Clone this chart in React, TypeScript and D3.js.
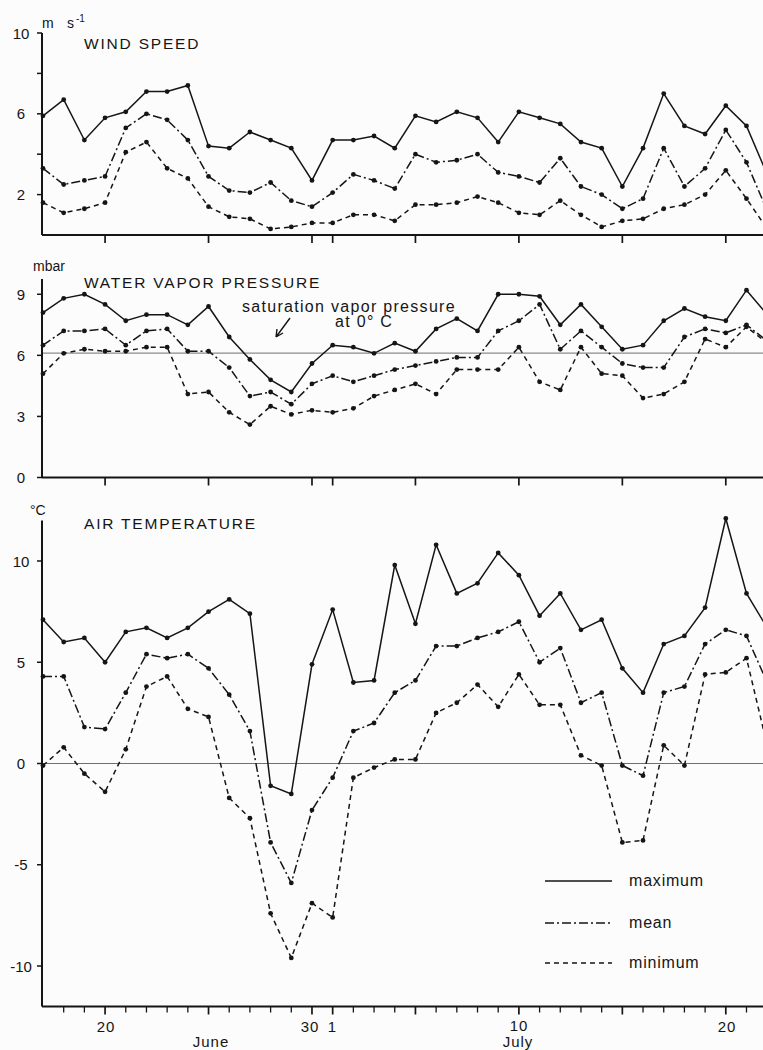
import React from 'react'
import * as d3 from 'd3'

// daily values, 17 June .. 22 July
const days = d3.utcDay.range(new Date(Date.UTC(1970, 5, 17)), new Date(Date.UTC(1970, 6, 23)))

const windMax = [5.9, 6.7, 4.7, 5.8, 6.1, 7.1, 7.1, 7.4, 4.4, 4.3, 5.1, 4.7, 4.3, 2.7, 4.7, 4.7, 4.9, 4.3, 5.9, 5.6, 6.1, 5.8, 4.6, 6.1, 5.8, 5.5, 4.6, 4.3, 2.4, 4.3, 7.0, 5.4, 5.0, 6.4, 5.4, 3.0]
const windMean = [3.3, 2.5, 2.7, 2.9, 5.3, 6.0, 5.7, 4.7, 2.9, 2.2, 2.1, 2.6, 1.7, 1.4, 2.1, 3.0, 2.7, 2.3, 4.0, 3.6, 3.7, 4.0, 3.1, 2.9, 2.6, 3.8, 2.4, 2.0, 1.3, 1.8, 4.3, 2.4, 3.3, 5.2, 3.6, 1.2]
const windMin = [1.6, 1.1, 1.3, 1.6, 4.1, 4.6, 3.3, 2.8, 1.4, 0.9, 0.8, 0.3, 0.4, 0.6, 0.6, 1.0, 1.0, 0.7, 1.5, 1.5, 1.6, 1.9, 1.6, 1.1, 1.0, 1.7, 1.0, 0.4, 0.7, 0.8, 1.3, 1.5, 2.0, 3.2, 1.8, 0.3]

const vapMax = [8.1, 8.8, 9.0, 8.5, 7.7, 8.0, 8.0, 7.5, 8.4, 6.9, 5.8, 4.8, 4.2, 5.6, 6.5, 6.4, 6.1, 6.6, 6.2, 7.3, 7.8, 7.2, 9.0, 9.0, 8.9, 7.5, 8.5, 7.4, 6.3, 6.5, 7.7, 8.3, 7.9, 7.7, 9.2, 8.0]
const vapMean = [6.5, 7.2, 7.2, 7.3, 6.5, 7.2, 7.3, 6.2, 6.2, 5.4, 4.0, 4.2, 3.6, 4.6, 5.0, 4.7, 5.0, 5.3, 5.5, 5.7, 5.9, 5.9, 7.2, 7.7, 8.5, 6.3, 7.2, 6.4, 5.6, 5.4, 5.4, 6.9, 7.3, 7.1, 7.5, 6.7]
const vapMin = [5.1, 6.1, 6.3, 6.2, 6.2, 6.4, 6.4, 4.1, 4.2, 3.2, 2.6, 3.5, 3.1, 3.3, 3.2, 3.4, 4.0, 4.3, 4.6, 4.1, 5.3, 5.3, 5.3, 6.4, 4.7, 4.3, 6.4, 5.1, 5.0, 3.9, 4.1, 4.7, 6.8, 6.4, 7.4, 6.6]
const satVapor = 6.11

const tempMax = [7.1, 6.0, 6.2, 5.0, 6.5, 6.7, 6.2, 6.7, 7.5, 8.1, 7.4, -1.1, -1.5, 4.9, 7.6, 4.0, 4.1, 9.8, 6.9, 10.8, 8.4, 8.9, 10.4, 9.3, 7.3, 8.4, 6.6, 7.1, 4.7, 3.5, 5.9, 6.3, 7.7, 12.1, 8.4, 6.7]
const tempMean = [4.3, 4.3, 1.8, 1.7, 3.5, 5.4, 5.2, 5.4, 4.7, 3.4, 1.6, -3.9, -5.9, -2.3, -0.7, 1.6, 2.0, 3.5, 4.1, 5.8, 5.8, 6.2, 6.5, 7.0, 5.0, 5.7, 3.0, 3.5, -0.1, -0.6, 3.5, 3.8, 5.9, 6.6, 6.3, 4.0]
const tempMin = [-0.1, 0.8, -0.5, -1.4, 0.7, 3.8, 4.3, 2.7, 2.3, -1.7, -2.7, -7.4, -9.6, -6.9, -7.6, -0.7, -0.2, 0.2, 0.2, 2.5, 3.0, 3.9, 2.8, 4.4, 2.9, 2.9, 0.4, -0.1, -3.9, -3.8, 0.9, -0.1, 4.4, 4.5, 5.2, 0.9]

const legendLabels = ['maximum', 'mean', 'minimum']
const dashes = [null, '9,3,2,3', '5,4']

const FONT = '"Liberation Sans", Arial, sans-serif'
const INK = '#151515'

const x = d3.scaleUtc()
  .domain([new Date(Date.UTC(1970, 5, 17)), new Date(Date.UTC(1970, 6, 20))])
  .range([43, 725.8])

const AX = 42
const RIGHT = 775

const majorDays = [
  Date.UTC(1970, 5, 20), Date.UTC(1970, 5, 25), Date.UTC(1970, 5, 30), Date.UTC(1970, 6, 1),
  Date.UTC(1970, 6, 5), Date.UTC(1970, 6, 10), Date.UTC(1970, 6, 15), Date.UTC(1970, 6, 20),
].map(t => new Date(t))

const panels = [
  {
    key: 'wind', title: 'WIND SPEED', titleY: 49, domain: [0, 10], range: [235, 33],
    ticks: [2, 4, 6, 8, 10], labels: [2, 6, 10], series: [windMax, windMean, windMin],
  },
  {
    key: 'vap', title: 'WATER VAPOR PRESSURE', titleY: 288, domain: [0, 9.75], range: [477.5, 279],
    ticks: [0, 3, 6, 9], labels: [0, 3, 6, 9], series: [vapMax, vapMean, vapMin], ref: satVapor,
  },
  {
    key: 'temp', title: 'AIR TEMPERATURE', titleY: 529, domain: [-12, 12], range: [1006.5, 520.5],
    ticks: [-10, -5, 0, 5, 10], labels: [-10, -5, 0, 5, 10], series: [tempMax, tempMean, tempMin], ref: 0,
  },
]

function Panel({ p }: { p: any }) {
  const y = d3.scaleLinear().domain(p.domain).range(p.range)
  const y0 = p.range[0]
  const line = d3.line<number>().x((_, i) => x(days[i])).y(v => y(v))
  const isTemp = p.key === 'temp'
  const bottomTicks = isTemp ? d3.utcDay.range(new Date(Date.UTC(1970, 5, 18)), new Date(Date.UTC(1970, 6, 23))) : majorDays

  return (
    <g>
      {p.ref !== undefined && (
        <line x1={AX} x2={RIGHT} y1={y(p.ref)} y2={y(p.ref)} stroke="#707070" strokeWidth={1} />
      )}
      <line x1={AX} x2={AX} y1={p.range[1]} y2={y0} stroke={INK} strokeWidth={2} />
      <line x1={AX} x2={RIGHT} y1={y0} y2={y0} stroke={INK} strokeWidth={2} />
      {p.ticks.map((t: number) => (
        <line key={t} x1={AX - 5} x2={AX} y1={y(t)} y2={y(t)} stroke={INK} strokeWidth={1.5} />
      ))}
      {p.labels.map((t: number) => (
        <text key={t} x={21} y={y(t) + 5.5} textAnchor="middle" fontSize={15} fill={INK}
          fontFamily={FONT}>{t}</text>
      ))}
      {bottomTicks.map((d: Date) => {
        const major = majorDays.some(m => +m === +d)
        return (
          <line key={+d} x1={x(d)} x2={x(d)} y1={y0} y2={y0 + (major ? 8 : 6)}
            stroke={INK} strokeWidth={major ? 1.7 : 1.3} />
        )
      })}
      <text x={84} y={p.titleY} fontSize={15.5} letterSpacing={1.8} fill={INK} fontFamily={FONT}>{p.title}</text>
      {p.series.map((s: number[], k: number) => (
        <g key={k}>
          <path d={line(s) || ''} fill="none" stroke={INK} strokeWidth={1.5}
            strokeDasharray={dashes[k] || undefined} />
          {s.map((v, i) => (
            <circle key={i} cx={x(days[i])} cy={y(v)} r={2.4} fill={INK} />
          ))}
        </g>
      ))}
    </g>
  )
}

export default function App() {
  const legendY = [881, 923, 963]
  return (
    <svg width={763} height={1050} style={{ position: 'absolute', left: 0, top: 0, background: '#fcfcfc' }}>
      {panels.map(p => <Panel key={p.key} p={p} />)}

      {/* units */}
      <text x={42} y={28} fontSize={14} fill={INK} fontFamily={FONT}>m</text>
      <text x={67} y={28} fontSize={14} fill={INK} fontFamily={FONT}>s</text>
      <text x={76} y={22} fontSize={10} fill={INK} fontFamily={FONT}>-1</text>
      <text x={33} y={271} fontSize={14} fill={INK} fontFamily={FONT}>mbar</text>
      <text x={30} y={515} fontSize={14} fill={INK} fontFamily={FONT}>°C</text>

      {/* saturation annotation */}
      <text x={242} y={311.5} fontSize={16} letterSpacing={1.3} fill={INK} fontFamily={FONT}>saturation vapor pressure</text>
      <text x={335} y={326.5} fontSize={16} letterSpacing={1.3} fill={INK} fontFamily={FONT}>at 0° C</text>
      <path d="M290,318 L276,337 M276,337 L277,329 M276,337 L283,333" fill="none" stroke={INK} strokeWidth={1.4} />

      {/* date labels */}
      <text x={106} y={1031.5} fontSize={15} textAnchor="middle" letterSpacing={1} fill={INK} fontFamily={FONT}>20</text>
      <text x={211} y={1046.5} fontSize={15} textAnchor="middle" letterSpacing={1} fill={INK} fontFamily={FONT}>June</text>
      <text x={310} y={1031.5} fontSize={15} textAnchor="middle" letterSpacing={1} fill={INK} fontFamily={FONT}>30</text>
      <text x={332} y={1031.5} fontSize={15} textAnchor="middle" fill={INK} fontFamily={FONT}>1</text>
      <text x={519} y={1030.5} fontSize={15} textAnchor="middle" letterSpacing={1} fill={INK} fontFamily={FONT}>10</text>
      <text x={518} y={1046.5} fontSize={15} textAnchor="middle" letterSpacing={1} fill={INK} fontFamily={FONT}>July</text>
      <text x={727} y={1031.5} fontSize={15} textAnchor="middle" letterSpacing={1} fill={INK} fontFamily={FONT}>20</text>

      {/* legend */}
      {legendLabels.map((l, k) => (
        <g key={l}>
          <line x1={545} x2={612} y1={legendY[k]} y2={legendY[k]} stroke={INK} strokeWidth={1.4}
            strokeDasharray={dashes[k] || undefined} />
          <text x={629} y={legendY[k] + 5} fontSize={16} letterSpacing={0.8} fill={INK} fontFamily={FONT}>{l}</text>
        </g>
      ))}
    </svg>
  )
}
